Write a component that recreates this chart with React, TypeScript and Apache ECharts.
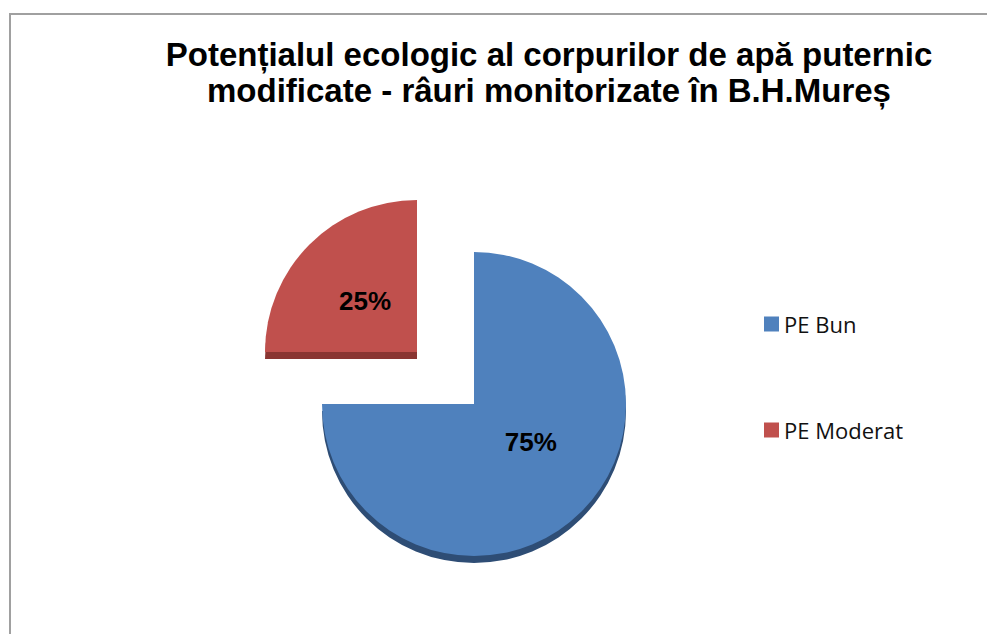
import React, { useEffect, useRef } from "react";
import * as echarts from "echarts";

const categories = ["PE Bun", "PE Moderat"];
const values = [75, 25];
const colors = ["#4F81BD", "#C0504D"];
const darkColors = ["#2E4D75", "#8A3532"];
const titleText = "Potențialul ecologic al corpurilor de apă puternic\nmodificate - râuri monitorizate în B.H.Mureș";

export default function App() {
  const ref = useRef<HTMLDivElement>(null);
  useEffect(() => {
    const chart = echarts.init(ref.current!, null, { renderer: "svg" });
    const hidden = {
      itemStyle: { color: "transparent" },
      label: { show: false },
      emphasis: { disabled: true },
    };
    const centers = [
      [474, 404],
      [417, 352],
    ];
    const depth = 7;
    const radius = 152;
    const series: any[] = [];
    categories.forEach((name, i) => {
      series.push({
        type: "pie",
        silent: true,
        center: [centers[i][0], centers[i][1] + depth],
        radius: radius,
        startAngle: 90,
        clockwise: true,
        z: 1,
        label: { show: false },
        labelLine: { show: false },
        data: values.map((v, j) =>
          j === i
            ? { name: "_d" + name, value: v, itemStyle: { color: darkColors[i] } }
            : { name: "_dg" + j + i, value: v, ...hidden }
        ),
      });
    });
    categories.forEach((name, i) => {
      series.push({
        type: "pie",
        center: centers[i],
        radius: radius,
        startAngle: 90,
        clockwise: true,
        z: 2,
        labelLine: { show: false },
        data: values.map((v, j) =>
          j === i
            ? {
                name,
                value: v,
                itemStyle: { color: colors[i] },
                label: {
                  show: true,
                  position: "inside",
                  formatter: "{d}%",
                  color: "#000",
                  fontFamily: "Liberation Sans, Arial, sans-serif",
                  fontWeight: "bold",
                  fontSize: 26,
                  offset: i === 0 ? [1, -18] : [4, 5],
                },
              }
            : { name: "_g" + j + i, value: v, ...hidden }
        ),
      });
    });
    chart.setOption({
      animation: false,
      backgroundColor: "#fff",
      title: {
        text: titleText,
        left: 544,
        top: 31,
        textAlign: "center",
        textStyle: {
          fontFamily: "Liberation Sans, Arial, sans-serif",
          fontWeight: "bold",
          fontSize: 33,
          lineHeight: 36,
          color: "#000",
        },
      },
      legend: {
        orient: "vertical",
        left: 759,
        top: 308,
        itemWidth: 15,
        itemHeight: 15,
        itemGap: 84,
        icon: "rect",
        selectedMode: false,
        textStyle: { fontFamily: "Open Sans, Noto Sans, sans-serif", fontSize: 22, color: "#111", padding: [0, 0, 0, 0] },
        data: categories.map((c, i) => ({ name: c, itemStyle: { color: colors[i] } })),
      },
      graphic: [
        {
          type: "rect",
          shape: { x: 10, y: 14, width: 1200, height: 1000 },
          style: { fill: "none", stroke: "#a0a0a0", lineWidth: 2 },
          silent: true,
        },
      ],
      series,
    });
    return () => chart.dispose();
  }, []);
  return <div ref={ref} style={{ position: "fixed", left: 0, top: 0, width: 987, height: 634 }} />;
}
